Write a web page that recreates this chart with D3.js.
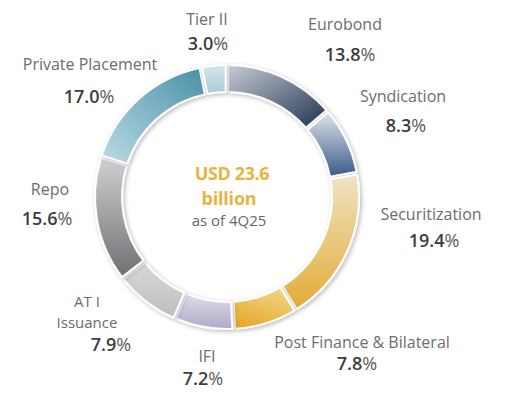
<!DOCTYPE html>
<html>
<head>
<meta charset="utf-8">
<script src="https://cdn.jsdelivr.net/npm/d3@7"></script>
<style>
  html, body { margin: 0; padding: 0; background: #fff; }
  svg { display: block; }
  text { font-family: "Open Sans", "Noto Sans", sans-serif; }
</style>
</head>
<body>
<svg id="chart" width="508" height="399"></svg>
<script>
// ---- data ----
const categories = ["Eurobond", "Syndication", "Securitization", "Post Finance & Bilateral", "IFI", "AT I Issuance", "Repo", "Private Placement", "Tier II"];
const shares = [13.8, 8.3, 19.4, 7.8, 7.2, 7.9, 15.6, 17.0, 3.0];
const totalLabel = ["USD 23.6", "billion"];
const asOfLabel = "as of 4Q25";

// ---- style (gradient colours per segment: light, dark, direction) ----
const gradStyles = [
  { c1: "#c6cbd3", c2: "#1f3350", x1: 0, y1: 0, x2: 1, y2: 1 },
  { c1: "#dfe3ea", c2: "#3b5b8a", x1: 0.5, y1: 0, x2: 0.5, y2: 1 },
  { c1: "#efe4c4", c2: "#e3ab35", x1: 0.5, y1: 0, x2: 0.5, y2: 1 },
  { c1: "#f2d588", c2: "#e6aa2c", x1: 0.8, y1: 0, x2: 0.3, y2: 1 },
  { c1: "#dfdce8", c2: "#b1a8c9", x1: 0.5, y1: 0, x2: 0.5, y2: 1 },
  { c1: "#d8d8d8", c2: "#bdbdbd", x1: 0.5, y1: 0, x2: 0.5, y2: 1 },
  { c1: "#d0d0d2", c2: "#6f6f73", x1: 0.5, y1: 0, x2: 0.5, y2: 1 },
  { c1: "#bcdbe5", c2: "#4890a8", x1: 0, y1: 1, x2: 1, y2: 0 },
  { c1: "#d3e5ea", c2: "#abcad4", x1: 0.5, y1: 0, x2: 0.5, y2: 1 }
];

// ---- layout of text labels (name lines + percentage) ----
const labelLayout = [
  { name: [[345, 30]], pct: [350, 61] },
  { name: [[403, 102]], pct: [406, 132] },
  { name: [[431, 220]], pct: [434, 247] },
  { name: [[362, 348]], pct: [357, 370] },
  { name: [[207, 362]], pct: [203, 385] },
  { name: [[87, 307], [87, 328]], pct: [111, 351] },
  { name: [[50, 195]], pct: [47, 225] },
  { name: [[90, 70]], pct: [89, 103] },
  { name: [[207, 25]], pct: [208, 50] }
];
const nameLines = [["Eurobond"], ["Syndication"], ["Securitization"], ["Post Finance & Bilateral"], ["IFI"], ["AT I", "Issuance"], ["Repo"], ["Private Placement"], ["Tier II"]];

const svg = d3.select("#chart");
const cx = 227, cy = 197, R = 132, r = 105;

const defs = svg.append("defs");
const f = defs.append("filter").attr("id", "shadow").attr("x", "-20%").attr("y", "-20%").attr("width", "140%").attr("height", "140%");
f.append("feDropShadow").attr("dx", 1.5).attr("dy", 1.5).attr("stdDeviation", 2.2)
  .attr("flood-color", "#000").attr("flood-opacity", 0.28);

gradStyles.forEach((g, i) => {
  const lg = defs.append("linearGradient").attr("id", "g" + i)
    .attr("x1", g.x1).attr("y1", g.y1).attr("x2", g.x2).attr("y2", g.y2);
  lg.append("stop").attr("offset", "0%").attr("stop-color", g.c1);
  lg.append("stop").attr("offset", "100%").attr("stop-color", g.c2);
});

const data = categories.map((c, i) => ({ name: c, value: shares[i], i }));
const pie = d3.pie().value(d => d.value).sort(null).padAngle(0.016);
const arc = d3.arc().innerRadius(r).outerRadius(R);

const g = svg.append("g").attr("transform", `translate(${cx},${cy})`);
g.selectAll("path.seg")
  .data(pie(data))
  .join("path")
  .attr("class", "seg")
  .attr("d", arc)
  .attr("fill", d => `url(#g${d.data.i})`)
  .attr("stroke", "#fff")
  .attr("stroke-width", 2)
  .attr("stroke-linejoin", "round")
  .attr("filter", "url(#shadow)");

// labels
const fmt = d3.format(".1f");
data.forEach((d, i) => {
  const L = labelLayout[i];
  const multi = nameLines[i].length > 1;
  nameLines[i].forEach((line, k) => {
    svg.append("text")
      .attr("x", L.name[k][0]).attr("y", L.name[k][1])
      .attr("text-anchor", "middle")
      .attr("font-size", multi ? 15 : 16)
      .attr("fill", "#6d6d6d")
      .text(line);
  });
  const t = svg.append("text")
    .attr("x", L.pct[0]).attr("y", L.pct[1])
    .attr("text-anchor", "middle")
    .attr("font-size", 18)
    .attr("fill", "#3d3d3d");
  t.append("tspan").attr("font-weight", 600).text(fmt(d.value));
  t.append("tspan").attr("font-weight", 400).attr("fill", "#5a5a5a").text("%");
});

// centre text
svg.append("text").attr("x", 232).attr("y", 180).attr("text-anchor", "middle")
  .attr("font-size", 18).attr("font-weight", 700).attr("letter-spacing", -0.4)
  .attr("fill", "#e9b43e").text(totalLabel[0]);
svg.append("text").attr("x", 229).attr("y", 205).attr("text-anchor", "middle")
  .attr("font-size", 18).attr("font-weight", 700).attr("letter-spacing", -0.2)
  .attr("fill", "#e9b43e").text(totalLabel[1]);
svg.append("text").attr("x", 229).attr("y", 226).attr("text-anchor", "middle")
  .attr("font-size", 15).attr("fill", "#666").text(asOfLabel);
</script>
</body>
</html>
